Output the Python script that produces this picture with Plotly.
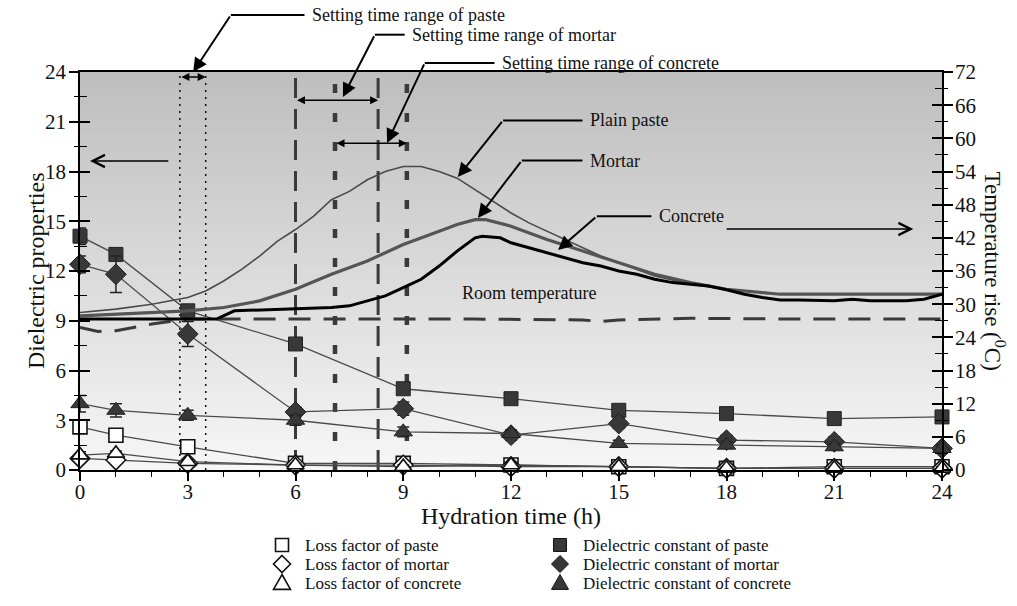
import plotly.graph_objects as go

# ---------------- data ----------------
hours = [0, 1, 3, 6, 9, 12, 15, 18, 21, 24]

const_paste = [14.1, 13.0, 9.6, 7.6, 4.9, 4.3, 3.6, 3.4, 3.1, 3.2]
const_paste_err = [0.5, 0.3, 0.3, 0.3, 0.2, 0.2, 0.2, 0.2, 0.2, 0.2]
const_mortar = [12.4, 11.8, 8.2, 3.5, 3.7, 2.1, 2.8, 1.8, 1.7, 1.3]
const_mortar_err = [0.5, 1.1, 0.75, 0.3, 0.4, 0.3, 0.3, 0.3, 0.3, 0.2]
const_concrete = [4.0, 3.6, 3.3, 3.0, 2.3, 2.2, 1.6, 1.5, 1.4, 1.3]
const_concrete_err = [0.5, 0.4, 0.3, 0.3, 0.3, 0.2, 0.2, 0.2, 0.2, 0.2]

loss_paste = [2.6, 2.1, 1.4, 0.4, 0.4, 0.3, 0.2, 0.1, 0.2, 0.2]
loss_mortar = [0.7, 0.6, 0.4, 0.3, 0.3, 0.2, 0.2, 0.1, 0.1, 0.1]
loss_concrete = [0.9, 1.0, 0.5, 0.3, 0.2, 0.3, 0.2, 0.1, 0.1, 0.1]
loss_err = [0.2, 0.15, 0.15, 0.1, 0.1, 0.1, 0.1, 0.1, 0.1, 0.1]

# temperature records (degC, right axis)
t_paste = [0, 1, 2, 3, 3.5, 4, 4.5, 5, 5.5, 6, 6.5, 7, 7.5, 8, 8.5, 9, 9.5,
           10, 10.5, 11, 11.5, 12, 12.5, 13, 13.5, 14, 14.5, 15, 16, 17, 18,
           19, 19.5, 24]
temp_paste = [28.5, 29.1, 30.0, 31.2, 32.4, 34.2, 36.3, 38.7, 41.4, 43.5,
              45.9, 48.9, 50.4, 52.5, 54.0, 54.9, 54.9, 54.0, 52.8, 50.7,
              48.6, 46.5, 44.7, 43.2, 41.7, 40.2, 38.7, 37.5, 35.1, 33.6,
              32.7, 32.1, 31.8, 31.8]

t_mortar = [0, 1, 2, 3, 4, 5, 6, 7, 8, 9, 10, 10.5, 11, 11.3, 12, 13, 14,
            15, 16, 17, 18, 19, 19.5, 24]
temp_mortar = [27.9, 28.2, 28.5, 28.8, 29.4, 30.6, 32.7, 35.4, 37.8, 40.8,
               43.2, 44.4, 45.3, 45.3, 44.1, 41.7, 39.6, 37.5, 35.4, 33.9,
               32.7, 32.1, 31.8, 31.8]

t_concrete = [0, 3.8, 4.3, 5, 6, 7, 7.5, 8, 8.5, 9, 9.5, 10, 10.5, 11, 11.2,
              11.7, 12, 12.5, 13, 13.5, 14, 14.5, 15, 15.5, 16, 16.5, 17,
              17.5, 18, 18.5, 19, 19.5, 20, 21, 21.5, 22, 23, 23.5, 24]
temp_concrete = [27.3, 27.3, 28.8, 28.95, 29.1, 29.4, 29.7, 30.6, 31.5, 33.0,
                 34.5, 36.9, 39.6, 42.0, 42.3, 42.0, 41.1, 40.2, 39.3, 38.4,
                 37.5, 36.9, 36.0, 35.4, 34.5, 33.9, 33.6, 33.3, 32.6, 31.8,
                 31.2, 30.75, 30.75, 30.6, 30.9, 30.6, 30.6, 30.9, 31.8]

t_room = [0, 0.5, 1, 1.5, 2, 2.5, 3, 5, 8, 11, 14, 14.5, 15, 17, 20, 24]
temp_room = [25.8, 25.05, 25.2, 25.8, 26.4, 26.85, 27.3, 27.3, 27.3, 27.3,
             27.15, 26.85, 27.15, 27.45, 27.3, 27.3]

# setting time ranges (h)
set_paste = [2.78, 3.5]
set_mortar = [6.0, 8.3]
set_concrete = [7.1, 9.1]

x_ticks = [0, 3, 6, 9, 12, 15, 18, 21, 24]
y_ticks = [0, 3, 6, 9, 12, 15, 18, 21, 24]
y2_ticks = [0, 6, 12, 18, 24, 30, 36, 42, 48, 54, 60, 66, 72]

# ---------------- geometry / style ----------------
W, H = 1017, 606
ML, MR, MT, MB = 80, 75, 72, 136
PW, PH = W - ML - MR, H - MT - MB
XMAX, YMAX = 24.0, 24.0
FONT = "Liberation Serif, Times New Roman, serif"
FILL = "#383838"
NOTE_SIZE = 18


def px_dx(dx):
    return dx * PW / XMAX


def px_dy(dy):
    return -dy * PH / YMAX


def paper_x(px):
    return (px - ML) / PW


def paper_y(py):
    return (H - MB - py) / PH


fig = go.Figure()

# temperature curves (right axis)
fig.add_trace(go.Scatter(x=t_room, y=temp_room, yaxis="y2", mode="lines",
                         line=dict(color="#3a3a3a", width=3, dash="22px,13px"),
                         showlegend=False, hoverinfo="skip"))
fig.add_trace(go.Scatter(x=t_paste, y=temp_paste, yaxis="y2", mode="lines",
                         line=dict(color="#4a4a4a", width=1.6),
                         showlegend=False, hoverinfo="skip"))
fig.add_trace(go.Scatter(x=t_mortar, y=temp_mortar, yaxis="y2", mode="lines",
                         line=dict(color="#555555", width=3.2),
                         showlegend=False, hoverinfo="skip"))
fig.add_trace(go.Scatter(x=t_concrete, y=temp_concrete, yaxis="y2", mode="lines",
                         line=dict(color="#000000", width=3),
                         showlegend=False, hoverinfo="skip"))

series = [
    ("Loss factor of paste", loss_paste, loss_err, "square-open", 14),
    ("Loss factor of mortar", loss_mortar, loss_err, "diamond-open", 15),
    ("Loss factor of concrete", loss_concrete, loss_err, "triangle-up-open", 15),
    ("Dielectric constant of paste", const_paste, const_paste_err, "square", 14),
    ("Dielectric constant of mortar", const_mortar, const_mortar_err, "diamond", 16),
    ("Dielectric constant of concrete", const_concrete, const_concrete_err, "triangle-up", 16),
]


def marker_style(sym, size):
    is_open = sym.endswith("open")
    return dict(symbol=sym.replace("-open", ""), size=size,
                color="white" if is_open else FILL,
                line=dict(color="#111111" if is_open else "#222222",
                          width=1.6 if is_open else 1))


for name, vals, err, sym, size in series:
    fig.add_trace(go.Scatter(
        x=hours, y=vals, mode="lines+markers", name=name,
        line=dict(color="#4a4a4a", width=1.3),
        marker=marker_style(sym, size), cliponaxis=False,
        error_y=dict(type="data", array=err, color="#222222", thickness=1.5, width=6),
        showlegend=False, hoverinfo="skip"))

# helper traces so the tick-crossing overlay axes are drawn
fig.add_trace(go.Scatter(x=[None], y=[None], yaxis="y3", showlegend=False, hoverinfo="skip"))
fig.add_trace(go.Scatter(x=[None], y=[None], yaxis="y4", showlegend=False, hoverinfo="skip"))

shapes = []
annotations = []

# ---------------- key below the plot (two columns) ----------------
KEY_COLS = [282, 560]          # symbol centre, page px
KEY_ROWS = [545, 564, 583]     # row centre, page px


def key_symbol(sym, cx, cy):
    is_open = sym.endswith("open")
    kind = sym.replace("-open", "")
    if kind == "square":
        r = 6.5
        pts = [(cx - r, cy - r), (cx + r, cy - r), (cx + r, cy + r), (cx - r, cy + r)]
    elif kind == "diamond":
        r = 8.5
        pts = [(cx, cy - r), (cx + r, cy), (cx, cy + r), (cx - r, cy)]
    else:
        r = 8.5
        pts = [(cx, cy - r), (cx + r, cy + r * 0.75), (cx - r, cy + r * 0.75)]
    path = "M " + " L ".join(f"{paper_x(x):.5f},{paper_y(y):.5f}" for x, y in pts) + " Z"
    return dict(type="path", xref="paper", yref="paper", path=path,
                fillcolor="white" if is_open else FILL,
                line=dict(color="#111111", width=1.6 if is_open else 1))


for i, (name, vals, err, sym, size) in enumerate(series):
    cx = KEY_COLS[i // 3]
    cy = KEY_ROWS[i % 3]
    shapes.append(key_symbol(sym, cx, cy))
    annotations.append(dict(x=paper_x(cx + 21), y=paper_y(cy),
                            xref="paper", yref="paper", text=name, showarrow=False,
                            xanchor="left", yanchor="middle",
                            font=dict(family=FONT, size=17, color="#111111")))

# ---------------- background gradient ----------------
N = 90
top_c, bot_c = 190, 246
gradient = []
for i in range(N):
    f = i / (N - 1)
    c = round(top_c + (bot_c - top_c) * (1 - f))
    gradient.append(dict(type="rect", xref="x domain", yref="y domain",
                         x0=0, x1=1, y0=i / N, y1=(i + 1) / N + 0.002,
                         fillcolor=f"rgb({c},{c},{c})", line=dict(width=0),
                         layer="below"))
shapes = gradient + shapes

# setting time lines
for xv in set_paste:
    shapes.append(dict(type="line", xref="x", yref="y", x0=xv, x1=xv, y0=0, y1=YMAX,
                       line=dict(color="#111111", width=1.5, dash="2px,5px"), layer="below"))
for xv in set_mortar:
    shapes.append(dict(type="line", xref="x", yref="y", x0=xv, x1=xv, y0=0, y1=YMAX,
                       line=dict(color="#3a3a3a", width=3, dash="20px,11px"), layer="below"))
for xv in set_concrete:
    shapes.append(dict(type="line", xref="x", yref="y", x0=xv, x1=xv, y0=0, y1=YMAX,
                       line=dict(color="#3a3a3a", width=4.5, dash="9px,20px"), layer="below"))

# double-headed range arrows
for (a, b), yv in ((set_paste, 23.7), (set_mortar, 22.3), (set_concrete, 19.7)):
    annotations.append(dict(x=b, y=yv, xref="x", yref="y", text="", showarrow=True,
                            ax=a, ay=yv, axref="x", ayref="y",
                            arrowhead=2, startarrowhead=2, arrowside="end+start",
                            arrowsize=1, arrowwidth=1.6, arrowcolor="#000000"))

# callouts: (label, text x, text y, elbow x, head x, head y)
callouts = [
    ("Setting time range of paste", 6.4, 27.44, 4.2, 3.15, 24.0),
    ("Setting time range of mortar", 9.19, 26.25, 8.21, 7.32, 22.49),
    ("Setting time range of concrete", 11.69, 24.55, 9.6, 8.55, 19.72),
    ("Plain paste", 14.14, 21.08, 11.78, 10.52, 17.67),
    ("Mortar", 14.14, 18.66, 12.3, 11.08, 15.2),
    ("Concrete", 16.06, 15.3, 14.39, 13.31, 13.27),
]
for label, tx, ty, ex, hx, hy in callouts:
    annotations.append(dict(x=tx / XMAX, y=ty / YMAX, xref="paper", yref="paper",
                            text=label, showarrow=False, xanchor="left", yanchor="middle",
                            font=dict(family=FONT, size=NOTE_SIZE, color="#111111")))
    shapes.append(dict(type="line", xref="paper", yref="paper",
                       x0=ex / XMAX, x1=(tx - 0.15) / XMAX, y0=ty / YMAX, y1=ty / YMAX,
                       line=dict(color="#000000", width=2)))
    annotations.append(dict(x=hx, y=hy, xref="x", yref="y", text="", showarrow=True,
                            ax=px_dx(ex - hx), ay=px_dy(ty - hy),
                            arrowhead=2, arrowsize=1.4, arrowwidth=2,
                            arrowcolor="#000000"))

# axis direction arrows
annotations.append(dict(x=0.28, y=18.63, xref="x", yref="y", text="", showarrow=True,
                        ax=px_dx(2.5 - 0.28), ay=0, arrowhead=5, arrowsize=1.5,
                        arrowwidth=1.6, arrowcolor="#000000"))
annotations.append(dict(x=23.2, y=14.53, xref="x", yref="y", text="", showarrow=True,
                        ax=px_dx(17.96 - 23.2), ay=0, arrowhead=5, arrowsize=1.5,
                        arrowwidth=1.6, arrowcolor="#000000"))

annotations.append(dict(x=10.58, y=10.67, xref="x", yref="y", text="Room temperature",
                        showarrow=False, xanchor="left", yanchor="middle",
                        font=dict(family=FONT, size=NOTE_SIZE, color="#111111")))

# axis titles
TITLE_FONT = dict(family=FONT, size=24, color="#111111")
annotations.append(dict(x=paper_x(21), y=0.5, xref="paper", yref="paper",
                        text="Dielectric properties", textangle=-90, showarrow=False,
                        font=TITLE_FONT))
annotations.append(dict(x=paper_x(1011), y=0.5, xref="paper", yref="paper",
                        text="Temperature rise (<sup>0</sup>C)", textangle=90, showarrow=False,
                        font=dict(family=FONT, size=23, color="#111111")))
annotations.append(dict(x=0.5, y=paper_y(516), xref="paper", yref="paper",
                        text="Hydration time (h)", showarrow=False, yanchor="middle",
                        font=TITLE_FONT))

tickfont = dict(family=FONT, size=21, color="#111111")
common_y = dict(showgrid=False, zeroline=False, fixedrange=True)

fig.update_layout(
    width=W, height=H,
    margin=dict(l=ML, r=MR, t=MT, b=MB, pad=0, autoexpand=False),
    paper_bgcolor="white", plot_bgcolor="rgba(0,0,0,0)",
    font=dict(family=FONT, color="#111111"),
    xaxis=dict(range=[0, XMAX], tickvals=x_ticks, ticks="outside", ticklen=9,
               tickwidth=1.5, tickcolor="#000000", showline=True, linewidth=1.5,
               linecolor="#000000", mirror=True, showgrid=False, zeroline=False,
               tickfont=tickfont, ticklabelstandoff=-7,
               minor=dict(dtick=1, ticks="outside", ticklen=5, tickwidth=1.2,
                          tickcolor="#000000")),
    yaxis=dict(range=[0, YMAX], tickvals=y_ticks, ticks="outside", ticklen=9,
               tickwidth=1.5, tickcolor="#000000", showline=True, linewidth=1.5,
               linecolor="#000000", tickfont=tickfont, ticklabelstandoff=-1,
               minor=dict(dtick=1.5, ticks="outside", ticklen=4, tickwidth=1.2,
                          tickcolor="#000000"), **common_y),
    yaxis3=dict(range=[0, YMAX], tickvals=y_ticks, overlaying="y", side="left",
                anchor="x", ticks="inside", ticklen=10, tickwidth=1.5,
                tickcolor="#000000", showticklabels=False, showline=False,
                minor=dict(dtick=1.5, ticks="inside", ticklen=7, tickwidth=1.2,
                           tickcolor="#000000"), **common_y),
    yaxis2=dict(range=[0, 72], tickvals=y2_ticks, overlaying="y", side="right",
                anchor="x", ticks="outside", ticklen=9, tickwidth=1.5,
                tickcolor="#000000", showline=True, linewidth=1.5, linecolor="#000000",
                tickfont=tickfont, ticklabelstandoff=-2,
                minor=dict(dtick=3, ticks="outside", ticklen=4, tickwidth=1.2,
                           tickcolor="#000000"), **common_y),
    yaxis4=dict(range=[0, 72], tickvals=y2_ticks, overlaying="y", side="right",
                anchor="x", ticks="inside", ticklen=10, tickwidth=1.5,
                tickcolor="#000000", showticklabels=False, showline=False,
                minor=dict(dtick=3, ticks="inside", ticklen=7, tickwidth=1.2,
                           tickcolor="#000000"), **common_y),
    shapes=shapes,
    annotations=annotations,
    showlegend=False,
)

fig.write_html("out.html")
